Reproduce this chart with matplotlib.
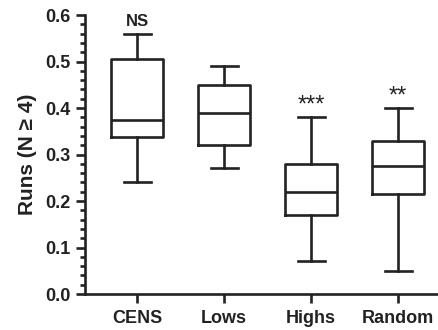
import matplotlib
matplotlib.use('Agg')
import matplotlib.pyplot as plt
from matplotlib.ticker import MultipleLocator

plt.rcParams['font.family'] = ['Liberation Sans', 'DejaVu Sans']
plt.rcParams['font.weight'] = 'bold'

# box summaries per group: whisker low, Q1, median, Q3, whisker high
groups = ['CENS', 'Lows', 'Highs', 'Random']
whislo = [0.24, 0.27, 0.07, 0.05]
q1 = [0.337, 0.32, 0.17, 0.215]
med = [0.374, 0.39, 0.22, 0.275]
q3 = [0.505, 0.45, 0.28, 0.33]
whishi = [0.56, 0.49, 0.38, 0.40]
signif = ['NS', '', '***', '**']

ink = '#222222'
lw = 1.9

stats = []
for i, g in enumerate(groups):
    stats.append({'label': g, 'whislo': whislo[i], 'q1': q1[i], 'med': med[i],
                  'q3': q3[i], 'whishi': whishi[i], 'fliers': []})

fig = plt.figure(figsize=(4.39, 3.30), dpi=100)
ax = fig.add_axes([0.1936, 0.109, 0.8064, 0.8455])

ax.bxp(stats, positions=range(1, 5), widths=0.6, showfliers=False,
       boxprops=dict(color=ink, linewidth=lw),
       medianprops=dict(color=ink, linewidth=lw),
       whiskerprops=dict(color=ink, linewidth=lw),
       capprops=dict(color=ink, linewidth=lw), capwidths=0.31)

# significance marks above the upper whiskers
for i, s in enumerate(signif):
    if not s:
        continue
    if s == 'NS':
        ax.text(i + 1, whishi[i] + 0.016, s, ha='center', va='baseline',
                fontsize=12, fontweight='bold', color=ink)
    else:
        ax.text(i + 1, whishi[i] + 0.012, s, ha='center', va='baseline',
                fontsize=17, fontweight='normal', color=ink)

ax.set_xlim(0.402, 4.47)
ax.set_ylim(0, 0.6)
ax.yaxis.set_major_locator(MultipleLocator(0.1))
ax.yaxis.set_minor_locator(MultipleLocator(0.02))
ax.set_yticklabels([f'{v:.1f}' for v in ax.get_yticks()])

for side in ['top', 'right']:
    ax.spines[side].set_visible(False)
for side in ['left', 'bottom']:
    ax.spines[side].set_linewidth(lw)
    ax.spines[side].set_color(ink)

ax.tick_params(axis='both', which='major', direction='out', width=lw, color=ink,
               labelsize=13, labelcolor=ink, length=6.5)
ax.tick_params(axis='y', which='minor', direction='out', width=lw, color=ink, length=3.5)
ax.tick_params(axis='x', pad=5)
ax.tick_params(axis='y', pad=4)
ax.set_ylabel('Runs (N \u2265 4)', fontsize=15, fontweight='bold', color=ink, labelpad=6)

fig.savefig('out.png', dpi=100)
